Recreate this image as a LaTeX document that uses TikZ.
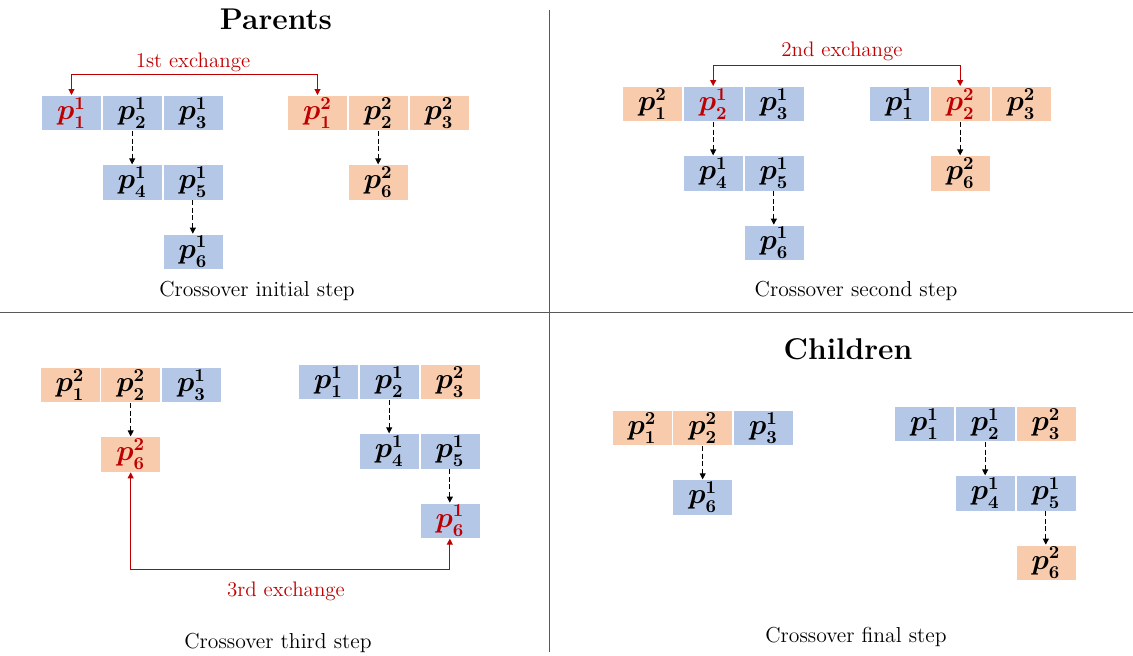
\documentclass[tikz,border=0pt]{standalone}
\usepackage{amsmath,amssymb}
\usepackage{xcolor}
\usepackage{tikz}
\usetikzlibrary{arrows.meta,positioning,calc}

\definecolor{cblue}{HTML}{B4C7E7}
\definecolor{corange}{HTML}{F8CBAD}
\definecolor{xred}{HTML}{C00000}
\newcommand{\gene}[2]{$\boldsymbol{p_{#1}^{#2}}$}

\begin{document}
\begin{tikzpicture}[
  x=0.6pt,y=-0.6pt,
  node distance=20pt and 0pt,
  cell/.style={draw=white,line width=0.4pt,minimum width=36pt,minimum height=21.2pt,inner sep=0pt,font=\fontsize{16}{18}\selectfont},
  bc/.style={cell,fill=cblue},
  oc/.style={cell,fill=corange},
  hit/.style={text=xred},
  ttl/.style={font=\fontsize{18}{21}\selectfont\bfseries},
  capt/.style={font=\fontsize{13}{15}\selectfont},
  lbl/.style={font=\fontsize{12.6}{15}\selectfont,text=xred},
  arr/.style={dashed,dash pattern=on 3pt off 1.5pt,line width=0.5pt,-{Triangle[length=3.6pt,width=3.6pt]}},
  xarr/.style={draw=xred,line width=0.6pt,{Triangle[length=3.6pt,width=3.6pt]}-{Triangle[length=3.6pt,width=3.6pt]}}
]
\useasboundingbox (0,0) rectangle (1133,655);

% dividers
\draw[black!65,line width=0.6pt] (549,10) -- (549,652);
\draw[black!65,line width=0.6pt] (0,312) -- (1133,312);

% parents
\node[ttl] (tp) at (276,19) {Parents};
\node[bc,hit] (a1) at (71.5,113) {\gene{1}{1}};
\node[bc,right=of a1] (a2) {\gene{2}{1}};
\node[bc,right=of a2] (a3) {\gene{3}{1}};
\node[bc,below=of a2] (a4) {\gene{4}{1}};
\node[bc,right=of a4] (a5) {\gene{5}{1}};
\node[bc,below=of a5] (a6) {\gene{6}{1}};
\node[oc,hit] (b1) at (317.5,113) {\gene{1}{2}};
\node[oc,right=of b1] (b2) {\gene{2}{2}};
\node[oc,right=of b2] (b3) {\gene{3}{2}};
\node[oc,below=of b2] (b6) {\gene{6}{2}};
\draw[arr] (a2)--(a4);
\draw[arr] (a5)--(a6);
\draw[arr] (b2)--(b6);
\draw[xarr] (a1.north) -- ++(0,-21) -| (b1.north);
\node[lbl] (x1) at (193,62) {1st exchange};
\node[capt] (s1) at (257,291) {Crossover initial step};

% second step
\node[oc] (c1) at (652.5,104) {\gene{1}{2}};
\node[bc,hit,right=of c1] (c2) {\gene{2}{1}};
\node[bc,right=of c2] (c3) {\gene{3}{1}};
\node[bc,below=of c2] (c4) {\gene{4}{1}};
\node[bc,right=of c4] (c5) {\gene{5}{1}};
\node[bc,below=of c5] (c6) {\gene{6}{1}};
\node[bc] (d1) at (899.5,104) {\gene{1}{1}};
\node[oc,hit,right=of d1] (d2) {\gene{2}{2}};
\node[oc,right=of d2] (d3) {\gene{3}{2}};
\node[oc,below=of d2] (d6) {\gene{6}{2}};
\draw[arr] (c2)--(c4);
\draw[arr] (c5)--(c6);
\draw[arr] (d2)--(d6);
\draw[xarr] (c2.north) -- ++(0,-21) -| (d2.north);
\node[lbl] (x2) at (842,51) {2nd exchange};
\node[capt] (s2) at (856,291) {Crossover second step};

% third step
\node[oc] (e1) at (70,385) {\gene{1}{2}};
\node[oc,right=of e1] (e2) {\gene{2}{2}};
\node[bc,right=of e2] (e3) {\gene{3}{1}};
\node[oc,hit,below=of e2] (e6) {\gene{6}{2}};
\node[bc] (f1) at (328.5,382) {\gene{1}{1}};
\node[bc,right=of f1] (f2) {\gene{2}{1}};
\node[oc,right=of f2] (f3) {\gene{3}{2}};
\node[bc,below=of f2] (f4) {\gene{4}{1}};
\node[bc,right=of f4] (f5) {\gene{5}{1}};
\node[bc,hit,below=of f5] (f6) {\gene{6}{1}};
\draw[arr] (e2)--(e6);
\draw[arr] (f2)--(f4);
\draw[arr] (f5)--(f6);
\draw[xarr] (e6.south) -- ++(0,97) -| (f6.south);
\node[lbl] (x3) at (286,591) {3rd exchange};
\node[capt] (s3) at (278,643) {Crossover third step};

% children
\node[ttl] (tc) at (848,349) {Children};
\node[oc] (g1) at (642,428) {\gene{1}{2}};
\node[oc,right=of g1] (g2) {\gene{2}{2}};
\node[bc,right=of g2] (g3) {\gene{3}{1}};
\node[bc,below=of g2] (g6) {\gene{6}{1}};
\node[bc] (h1) at (924.5,424) {\gene{1}{1}};
\node[bc,right=of h1] (h2) {\gene{2}{1}};
\node[oc,right=of h2] (h3) {\gene{3}{2}};
\node[bc,below=of h2] (h4) {\gene{4}{1}};
\node[bc,right=of h4] (h5) {\gene{5}{1}};
\node[oc,below=of h5] (h6) {\gene{6}{2}};
\draw[arr] (g2)--(g6);
\draw[arr] (h2)--(h4);
\draw[arr] (h5)--(h6);
\node[capt] (s4) at (856,637) {Crossover final step};
\end{tikzpicture}
\end{document}
